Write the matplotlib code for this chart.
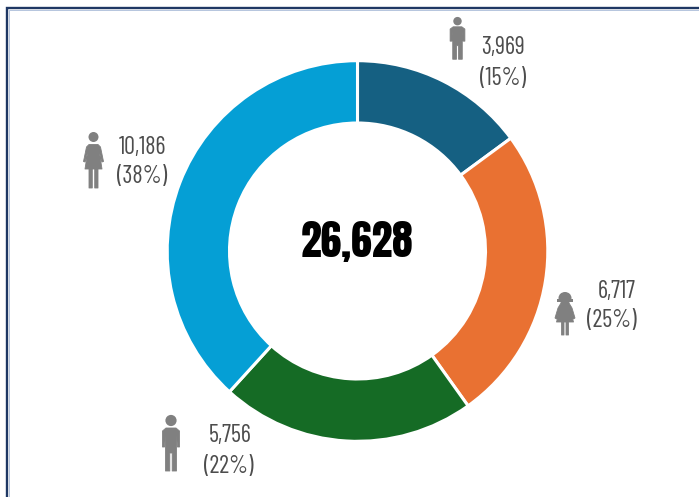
import matplotlib
matplotlib.use("Agg")
import matplotlib.pyplot as plt
from matplotlib.patches import Polygon, Circle, Rectangle, Ellipse
from matplotlib import font_manager as fm

values = [3969, 6717, 5756, 10186]
colors = ["#156082", "#E97132", "#156B25", "#059FD5"]
count_labels = ["3,969", "6,717", "5,756", "10,186"]
pct_labels = ["(15%)", "(25%)", "(22%)", "(38%)"]
total_label = "26,628"

names = {f.name for f in fm.fontManager.ttflist}


def pick(*cands):
    for c in cands:
        if c in names:
            return c
    return "DejaVu Sans"


label_font = pick("Barlow Condensed", "Sofia Sans Condensed", "Saira SemiCondensed")
total_font = pick("Anton", "Barlow Condensed", "Sofia Sans Extra Condensed")

W, H = 699, 497
fig = plt.figure(figsize=(W / 100, H / 100), dpi=100, facecolor="white")

# donut
cx, cy, R = 357.5, 251, 190.3
ax = fig.add_axes([(cx - R) / W, (H - cy - R) / H, 2 * R / W, 2 * R / H])
ax.pie(values, colors=colors, startangle=90, counterclock=False, radius=1,
       wedgeprops=dict(width=62.3 / R, edgecolor="white", linewidth=2.2))
ax.set_xlim(-1, 1)
ax.set_ylim(-1, 1)
ax.set_aspect("equal")
ax.text(-0.003, 0.05, total_label, ha="center", va="center", fontsize=30,
        family=total_font, color="black")

# overlay in pixel coordinates
ov = fig.add_axes([0, 0, 1, 1], zorder=3)
ov.set_xlim(0, W)
ov.set_ylim(H, 0)
ov.axis("off")
ov.patch.set_alpha(0)

# frame
navy = "#1F3864"
ov.plot([7, 7, W], [H, 8, 8], color=navy, lw=1.7, solid_joinstyle="miter")
ov.plot([8.5, 8.5, W], [H, 9.5, 9.5], color="#A9BCD8", lw=0.6)

grey = "#808080"
txt = "#4D4D4D"


def body(pts, x, top, sx, sy):
    ov.add_patch(Polygon([(x + a * sx, top + b * sy) for a, b in pts], facecolor=grey,
                         edgecolor=grey, lw=0.6, joinstyle="round"))


def man(x, top, h, w=1.0):
    s = h / 57
    ov.add_patch(Circle((x, top + 5.5 * s), 5.6 * s, color=grey, lw=0))
    pts = [(-5, 13), (5, 13), (8.5, 16), (8.5, 32), (6.5, 32), (5.5, 20), (5.5, 56), (1.2, 56),
           (1.2, 38), (-1.2, 38), (-1.2, 56), (-5.5, 56), (-5.5, 20), (-6.5, 32), (-8.5, 32), (-8.5, 16)]
    body(pts, x, top, s * w, s)


def woman(x, top, h):
    s = h / 57
    ov.add_patch(Circle((x, top + 5 * s), 5 * s, color=grey, lw=0))
    pts = [(-4.5, 12.5), (4.5, 12.5), (7, 15), (10, 29.5), (8.5, 30), (6, 21), (8.5, 37), (4.5, 37), (4.5, 56),
           (1.2, 56), (1.2, 37), (-1.2, 37), (-1.2, 56), (-4.5, 56), (-4.5, 37), (-8.5, 37), (-6, 21), (-8.5, 30), (-10, 29.5), (-7, 15)]
    body(pts, x, top, s, s)


def girl(x, top, h):
    s = h / 44
    ov.add_patch(Ellipse((x, top + 6 * s), 13 * s, 12 * s, color=grey, lw=0))
    ov.add_patch(Rectangle((x - 8 * s, top + 7 * s), 16 * s, 2.5 * s, color=grey, lw=0))
    pts = [(-4, 11), (4, 11), (7, 16), (10, 26), (8.5, 27), (6, 21), (8.5, 30), (3.5, 30), (3.5, 43),
           (1, 43), (1, 30), (-1, 30), (-1, 43), (-3.5, 43), (-3.5, 30), (-8.5, 30), (-6, 21), (-8.5, 27), (-10, 26), (-7, 16)]
    body(pts, x, top, s, s)


man(457.5, 17, 43, 1.15)
girl(565, 292, 44)
man(171, 415, 57)
woman(93.5, 132, 57)

# labels (right edge aligned, as in the reference)
label_pos = [(526, 48, 78), (637, 292, 321), (253, 436, 466), (167, 147, 177)]
for (xr, y1, y2), c, p in zip(label_pos, count_labels, pct_labels):
    ov.text(xr - 1, y1, c, ha="right", va="center", fontsize=17.5, fontweight=400,
            family=label_font, color=txt)
    ov.text(xr, y2, p, ha="right", va="center", fontsize=17.5, fontweight=400,
            family=label_font, color=txt)

fig.savefig("out.png", dpi=100, facecolor="white")
